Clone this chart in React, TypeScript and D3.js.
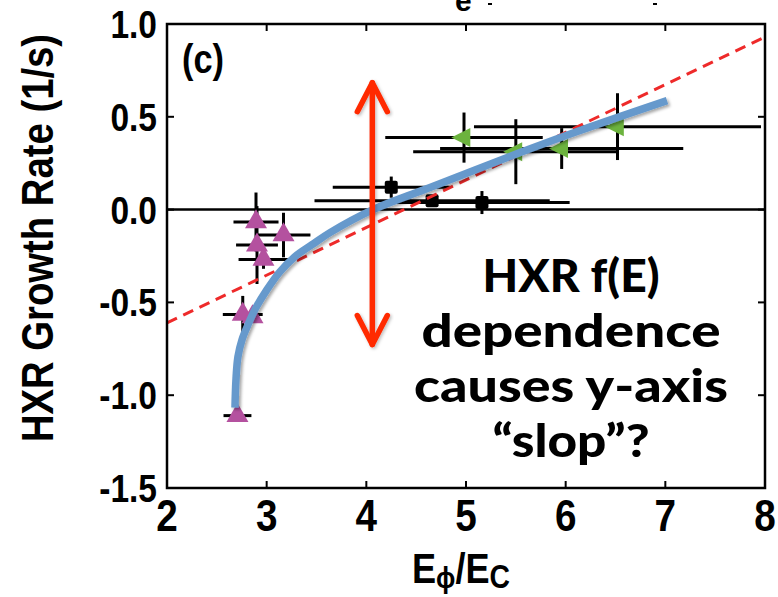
import React from "react";
import * as d3 from "d3";

// ---------- data ----------
const xTicks = [2, 3, 4, 5, 6, 7, 8];
const xTickLabels = ["2", "3", "4", "5", "6", "7", "8"];
const yTicks = [1.0, 0.5, 0.0, -0.5, -1.0, -1.5];
const yTickLabels = ["1.0", "0.5", "0.0", "-0.5", "-1.0", "-1.5"];

// magenta up-triangles
const magX = [2.893, 3.169, 2.903, 2.968, 2.76, 2.858, 2.707];
const magY = [-0.067, -0.137, -0.191, -0.269, -0.565, -0.578, -1.11];
const magXErr = [0.226, 0.27, 0.21, 0.25, 0.2, 0, 0.14];
const magYErr = [0.159, 0.12, 0.21, 0.05, 0.1, 0, 0.02];

// black squares
const sqX = [4.25, 4.66, 5.16];
const sqY = [0.121, 0.048, 0.038];
const sqXErr = [0.587, 1.18, 0.88];
const sqYErr = [0.057, 0.03, 0.062];

// green left-triangles
const grX = [4.98, 5.5, 5.96, 6.52];
const grY = [0.388, 0.312, 0.329, 0.447];
const grXErr = [0.79, 1.03, 1.22, 1.44];
const grYErr = [0.135, 0.175, 0.11, 0.18];

// blue fitted curve
const curveX = [2.682, 2.692, 2.712, 2.753, 2.813, 2.893, 3.003, 3.134, 3.284, 3.455, 3.635, 4.067, 4.639, 5.542, 6.144, 7.017];
const curveY = [-1.067, -0.916, -0.792, -0.7, -0.62, -0.528, -0.431, -0.334, -0.253, -0.189, -0.124, 0.0, 0.119, 0.307, 0.426, 0.587];

// red dashed linear fit
const fitX = [2, 8];
const fitY = [-0.61, 0.93];

// red double arrow (annotation)
const arrowX = 4.06;
const arrowY = [0.684, -0.727];

const annotationLines = ["HXR f(E)", "dependence", "causes y-axis", "\u201cslop\u201d?"];
const annotationWidths = [177, 299, 314, 157];

// ---------- layout ----------
const W = 778;
const H = 597;
const L = 167, R = 765, T = 24, B = 488;

export default function App() {
  const x = d3.scaleLinear().domain([2, 8]).range([L, R]);
  const y = d3.scaleLinear().domain([-1.5, 1.0]).range([B, T]);

  const curveLine = d3
    .line<number>()
    .x((_, i) => x(curveX[i]))
    .y((d) => y(d))
    .curve(d3.curveCatmullRom.alpha(0.5));

  const axisFont = "'Liberation Sans', Arial, Helvetica, sans-serif";
  const cond = 0.86;
  const tickLen = 7;

  const errBars = (xs: number[], ys: number[], xe: number[], ye: number[], key: string) =>
    xs.map((xv, i) => (
      <g key={key + i}>
        {xe[i] > 0 && (
          <line x1={x(xv - xe[i])} x2={x(xv + xe[i])} y1={y(ys[i])} y2={y(ys[i])} stroke="#000" strokeWidth={3} />
        )}
        {ye[i] > 0 && (
          <line x1={x(xv)} x2={x(xv)} y1={y(ys[i] - ye[i])} y2={y(ys[i] + ye[i])} stroke="#000" strokeWidth={3} />
        )}
      </g>
    ));

  const upTri = (cx: number, cy: number) => {
    const w = 22, h = 19;
    return `M${cx - w / 2},${cy + h / 3} L${cx + w / 2},${cy + h / 3} L${cx},${cy - (2 * h) / 3} Z`;
  };
  const leftTri = (cx: number, cy: number) => {
    const w = 19, h = 19;
    return `M${cx + w / 3},${cy - h / 2} L${cx + w / 3},${cy + h / 2} L${cx - (2 * w) / 3},${cy} Z`;
  };

  const ax = x(arrowX);
  const aTop = y(arrowY[0]);
  const aBot = y(arrowY[1]);
  const arrowColor = "#ff2a00";

  return (
    <svg width={W} height={H} style={{ position: "absolute", left: 0, top: 0, background: "#fff" }}>
      <defs>
        <filter id="shadow" x="-10%" y="-10%" width="120%" height="120%">
          <feDropShadow dx="2" dy="2" stdDeviation="1.8" floodColor="#000" floodOpacity="0.35" />
        </filter>
        <filter id="shadow2" x="-20%" y="-10%" width="140%" height="120%">
          <feDropShadow dx="1.5" dy="1.5" stdDeviation="1.5" floodColor="#000" floodOpacity="0.25" />
        </filter>
      </defs>
      <rect x={0} y={0} width={W} height={H} fill="#fff" />

      {/* cut-off title fragment at top (as in the reference) */}
      <text x={455} y={11} fontFamily={axisFont} fontWeight="bold" fontSize={30}>e</text>
      <rect x={488} y={3} width={4} height={2} fill="#000" />
      <rect x={653} y={3} width={4} height={2} fill="#000" />

      {/* zero line */}
      <line x1={L} x2={R} y1={y(0)} y2={y(0)} stroke="#000" strokeWidth={2.5} />

      {/* error bars */}
      {errBars(magX, magY, magXErr, magYErr, "m")}
      {errBars(sqX, sqY, sqXErr, sqYErr, "s")}
      {errBars(grX, grY, grXErr, grYErr, "g")}

      {/* markers */}
      {magX.map((xv, i) => (
        <path key={"mt" + i} d={upTri(x(xv), y(magY[i]))} fill="#b4519f" />
      ))}
      {sqX.map((xv, i) => (
        <rect key={"sq" + i} x={x(xv) - 6.5} y={y(sqY[i]) - 6.5} width={13} height={13} rx={2} fill="#000" />
      ))}
      {grX.map((xv, i) => (
        <path key={"gt" + i} d={leftTri(x(xv), y(grY[i]))} fill="#6cb33e" />
      ))}

      {/* dashed red fit */}
      <line
        x1={x(fitX[0])}
        y1={y(fitY[0])}
        x2={x(fitX[1])}
        y2={y(fitY[1])}
        stroke="#ee2a2a"
        strokeWidth={3}
        strokeDasharray="11 7"
      />

      {/* blue curve */}
      <path
        d={curveLine(curveY) || ""}
        fill="none"
        stroke="#6699cc"
        strokeWidth={7.5}
        strokeLinejoin="round"
        filter="url(#shadow)"
      />

      {/* red double arrow */}
      <g stroke={arrowColor} strokeWidth={5.5} strokeLinecap="round" strokeLinejoin="round" fill="none" filter="url(#shadow2)">
        <line x1={ax} x2={ax} y1={aTop} y2={aBot} />
        <polyline points={`${ax - 15},${aTop + 29} ${ax},${aTop} ${ax + 15},${aTop + 29}`} />
        <polyline points={`${ax - 15},${aBot - 29} ${ax},${aBot} ${ax + 15},${aBot - 29}`} />
      </g>

      {/* frame */}
      <rect x={L} y={T} width={R - L} height={B - T} fill="none" stroke="#000" strokeWidth={2.5} />

      {/* ticks */}
      {xTicks.slice(1, -1).map((t) => (
        <g key={"xt" + t}>
          <line x1={x(t)} x2={x(t)} y1={B} y2={B - tickLen} stroke="#000" strokeWidth={2} />
          <line x1={x(t)} x2={x(t)} y1={T} y2={T + tickLen} stroke="#000" strokeWidth={2} />
        </g>
      ))}
      {yTicks.slice(1, -1).map((t) => (
        <g key={"yt" + t}>
          <line x1={L} x2={L + tickLen} y1={y(t)} y2={y(t)} stroke="#000" strokeWidth={2} />
          <line x1={R} x2={R - tickLen} y1={y(t)} y2={y(t)} stroke="#000" strokeWidth={2} />
        </g>
      ))}

      {/* tick labels */}
      {yTicks.map((t, i) => (
        <text
          key={"yl" + t}
          transform={`translate(157,${y(t) + 14}) scale(${cond},1)`}
          textAnchor="end"
          fontFamily={axisFont}
          fontWeight="bold"
          fontSize={39}
        >
          {yTickLabels[i]}
        </text>
      ))}
      {xTicks.map((t, i) => (
        <text
          key={"xl" + t}
          transform={`translate(${x(t)},531) scale(${cond},1)`}
          textAnchor="middle"
          fontFamily={axisFont}
          fontWeight="bold"
          fontSize={45}
        >
          {xTickLabels[i]}
        </text>
      ))}

      {/* axis titles */}
      <text
        transform={`translate(53,238) rotate(-90) scale(0.87,1)`}
        textAnchor="middle"
        fontFamily={axisFont}
        fontWeight="bold"
        fontSize={44}
      >
        HXR Growth Rate (1/s)
      </text>
      <text transform={`translate(412,583) scale(0.86,1)`} fontFamily={axisFont} fontWeight="bold" fontSize={42}>
        E
        <tspan fontSize={30} dy={5}>ϕ</tspan>
        <tspan dy={-5}>/E</tspan>
        <tspan fontSize={33} dy={5}>C</tspan>
      </text>

      {/* panel label */}
      <text transform={`translate(182,73) scale(0.86,1)`} fontFamily={axisFont} fontWeight="bold" fontSize={40}>
        (c)
      </text>

      {/* annotation */}
      {annotationLines.map((s, i) => (
        <text
          key={"an" + i}
          x={571}
          y={292 + i * 55}
          textAnchor="middle"
          fontFamily="Lato, 'Noto Sans', sans-serif"
          fontWeight={900}
          fontSize={46}
          textLength={annotationWidths[i]}
          lengthAdjust="spacingAndGlyphs"
        >
          {s}
        </text>
      ))}
    </svg>
  );
}
